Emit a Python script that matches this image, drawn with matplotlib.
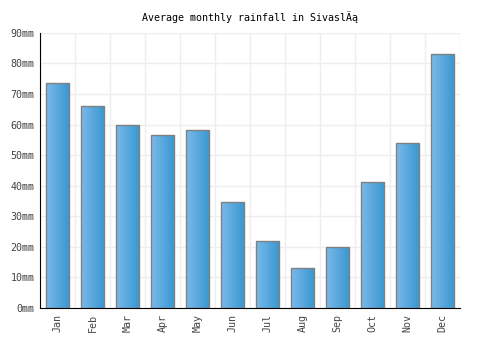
import numpy as np
import matplotlib.pyplot as plt
from matplotlib.colors import LinearSegmentedColormap

months = ['Jan', 'Feb', 'Mar', 'Apr', 'May', 'Jun', 'Jul', 'Aug', 'Sep', 'Oct', 'Nov', 'Dec']
rainfall = [73.6, 66.1, 59.9, 56.6, 58.2, 34.7, 21.9, 13.1, 20.0, 41.2, 54.0, 83.1]
yticks = [0, 10, 20, 30, 40, 50, 60, 70, 80, 90]

GRAD = LinearSegmentedColormap.from_list('bar', ['#7bb9ea', '#3797d0'])
FONT = 'DejaVu Sans Mono'

fig = plt.figure(figsize=(5, 3.5), dpi=100)
ax = fig.add_axes([0.08, 0.12, 0.84, 0.786])

x = np.arange(len(months))
bars = ax.bar(x, rainfall, width=0.66, facecolor='none', edgecolor='#808080',
              linewidth=1, zorder=3)

grad = np.linspace(0, 1, 64).reshape(1, -1)
for b in bars:
    x0, y0 = b.get_x(), b.get_y()
    w, h = b.get_width(), b.get_height()
    im = ax.imshow(grad, cmap=GRAD, extent=[x0, x0 + w, y0, y0 + h],
                   aspect='auto', zorder=2, interpolation='bilinear')
    im.set_clip_path(b)

ax.set_xlim(-0.5, len(months) - 0.5)
ax.set_ylim(0, 90)
ax.set_xticks(x)
ax.set_xticklabels(months, rotation=90, fontfamily=FONT, fontsize=7.2, color='#444444')
ax.set_yticks(yticks)
ax.set_yticklabels([f'{v}mm' for v in yticks], fontfamily=FONT, fontsize=7.2, color='#444444')
ax.set_xticks(np.arange(len(months) + 1) - 0.5, minor=True)
ax.tick_params(axis='both', which='both', length=0, pad=4)
ax.grid(True, which='minor', axis='x', color='#eeeeee', linewidth=1, zorder=0)
ax.grid(True, which='major', axis='y', color='#eeeeee', linewidth=1, zorder=0)
ax.set_axisbelow(True)

for side in ['top', 'right']:
    ax.spines[side].set_visible(False)
ax.spines['left'].set_color('black')
ax.spines['bottom'].set_color('black')

fig.text(0.5, 0.952, 'Average monthly rainfall in SivaslÄą', ha='center', va='center',
         fontfamily=FONT, fontsize=7.2, color='black')

fig.savefig('out.png', dpi=100)
